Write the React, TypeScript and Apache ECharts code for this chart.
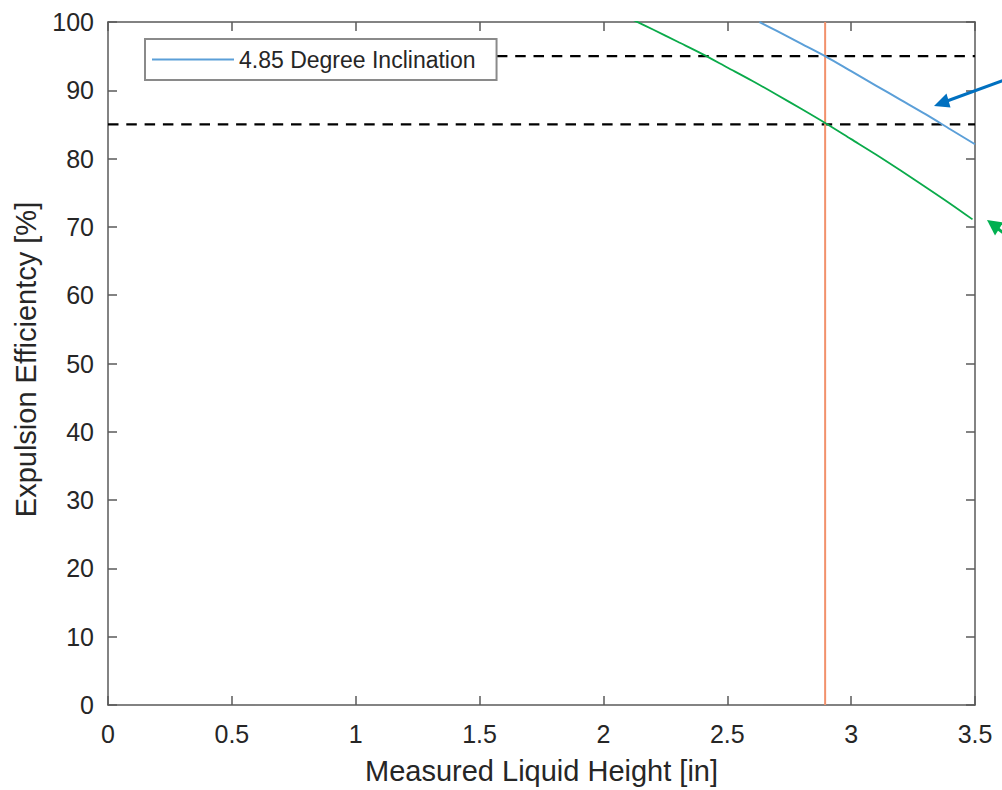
import React, { useEffect, useRef } from "react";
import * as echarts from "echarts";

// Data
const blueX = [2.63, 2.7, 2.8, 2.9, 3.0, 3.1, 3.2, 3.3, 3.4, 3.5];
const blueY = [100.0, 98.7, 96.8, 94.9, 92.8, 90.7, 88.6, 86.5, 84.3, 82.1];
const greenX = [2.12, 2.2, 2.3, 2.4, 2.5, 2.6, 2.7, 2.8, 2.9, 3.0, 3.1, 3.2, 3.3, 3.4, 3.49];
const greenY = [100.3, 98.9, 97.1, 95.3, 93.35, 91.4, 89.35, 87.25, 85.1, 82.85, 80.6, 78.25, 75.85, 73.4, 71.1];
const verticalX = 2.895;
const upperThreshold = 95;
const lowerThreshold = 85;
const upperStartX = 1.57;
const lowerStartX = 0;
const xMin = 0;
const xMax = 3.5;
const xStep = 0.5;
const yMin = 0;
const yMax = 100;
const yStep = 10;
const seriesName = "4.85 Degree Inclination";
const xTitle = "Measured Liquid Height [in]";
const yTitle = "Expulsion Efficientcy [%]";

const FONT = "'Liberation Sans', Arial, sans-serif";
const TEXT = "#262626";
const AXIS = "#5a5a5a";

export default function App() {
  const ref = useRef<HTMLDivElement>(null);
  useEffect(() => {
    if (!ref.current) return;
    const chart = echarts.init(ref.current, null, { renderer: "svg" });
    const zip = (xs: number[], ys: number[]) => xs.map((x, i) => [x, ys[i]]);
    const axisCommon = {
      type: "value" as const,
      axisLine: { show: true, onZero: false, lineStyle: { color: AXIS, width: 1.5 } },
      axisTick: { show: true, inside: true, length: 9, lineStyle: { color: AXIS, width: 1.5 } },
      splitLine: { show: false },
    };
    chart.setOption({
      animation: false,
      backgroundColor: "#ffffff",
      textStyle: { fontFamily: FONT },
      grid: { left: 108, right: 27, top: 22, bottom: 84, containLabel: false },
      legend: {
        data: [seriesName],
        left: 145,
        top: 39,
        padding: [9, 21, 9, 7],
        backgroundColor: "#ffffff",
        borderColor: "#8a8a8a",
        borderWidth: 2,
        icon: "rect",
        itemWidth: 82,
        itemHeight: 2,
        textStyle: { fontSize: 23, color: TEXT, fontFamily: FONT },
      },
      xAxis: [
        {
          ...axisCommon,
          position: "bottom",
          min: xMin,
          max: xMax,
          interval: xStep,
          axisLabel: { fontSize: 25, color: TEXT, margin: 16, fontFamily: FONT },
          name: xTitle,
          nameLocation: "middle",
          nameGap: 51,
          nameTextStyle: { fontSize: 29, color: TEXT, fontFamily: FONT },
        },
        {
          ...axisCommon,
          position: "top",
          min: xMin,
          max: xMax,
          interval: xStep,
          axisLabel: { show: false },
        },
      ],
      yAxis: [
        {
          ...axisCommon,
          position: "left",
          min: yMin,
          max: yMax,
          interval: yStep,
          axisLabel: { fontSize: 25, color: TEXT, margin: 14, fontFamily: FONT },
          name: yTitle,
          nameLocation: "middle",
          nameGap: 68,
          nameTextStyle: { fontSize: 29, color: TEXT, fontFamily: FONT, padding: [0, 0, 0, 8] },
        },
        {
          ...axisCommon,
          position: "right",
          min: yMin,
          max: yMax,
          interval: yStep,
          axisLabel: { show: false },
        },
      ],
      series: [
        {
          type: "line",
          name: "upper",
          data: [[upperStartX, upperThreshold], [xMax, upperThreshold]],
          showSymbol: false,
          symbol: "none",
          lineStyle: { color: "#000000", width: 2.2, type: [10.5, 7.8] },
          z: 2,
        },
        {
          type: "line",
          name: "lower",
          data: [[lowerStartX, lowerThreshold], [xMax, lowerThreshold]],
          showSymbol: false,
          symbol: "none",
          lineStyle: { color: "#000000", width: 2.2, type: [10.5, 7.8] },
          z: 2,
        },
        {
          type: "line",
          name: "vertical",
          data: [[verticalX, yMin], [verticalX, yMax]],
          showSymbol: false,
          symbol: "none",
          lineStyle: { color: "#F2916C", width: 2 },
          z: 3,
        },
        {
          type: "line",
          name: seriesName,
          data: zip(blueX, blueY),
          showSymbol: false,
          symbol: "none",
          smooth: 0.3,
          itemStyle: { color: "#5B9FD8" },
          lineStyle: { color: "#5B9FD8", width: 2 },
          z: 4,
        },
        {
          type: "line",
          name: "green",
          data: zip(greenX, greenY),
          showSymbol: false,
          symbol: "none",
          smooth: 0.3,
          lineStyle: { color: "#0AAA4A", width: 1.8 },
          z: 4,
        },
      ],
      graphic: [
        {
          type: "line",
          shape: { x1: 1010, y1: 78, x2: 947, y2: 101 },
          style: { stroke: "#0070C0", lineWidth: 3 },
          z: 10,
        },
        {
          type: "polygon",
          shape: { points: [[934, 106], [946.5, 93.5], [950.5, 107.5]] },
          style: { fill: "#0070C0" },
          z: 10,
        },
        {
          type: "line",
          shape: { x1: 997, y1: 228, x2: 1015, y2: 242 },
          style: { stroke: "#00B050", lineWidth: 3 },
          z: 10,
        },
        {
          type: "polygon",
          shape: { points: [[987, 220], [995, 235.5], [1003, 222.5]] },
          style: { fill: "#00B050" },
          z: 10,
        },
      ],
    });
    return () => chart.dispose();
  }, []);
  return (
    <div
      ref={ref}
      style={{ position: "absolute", left: 0, top: 0, width: 1002, height: 790 }}
    />
  );
}
